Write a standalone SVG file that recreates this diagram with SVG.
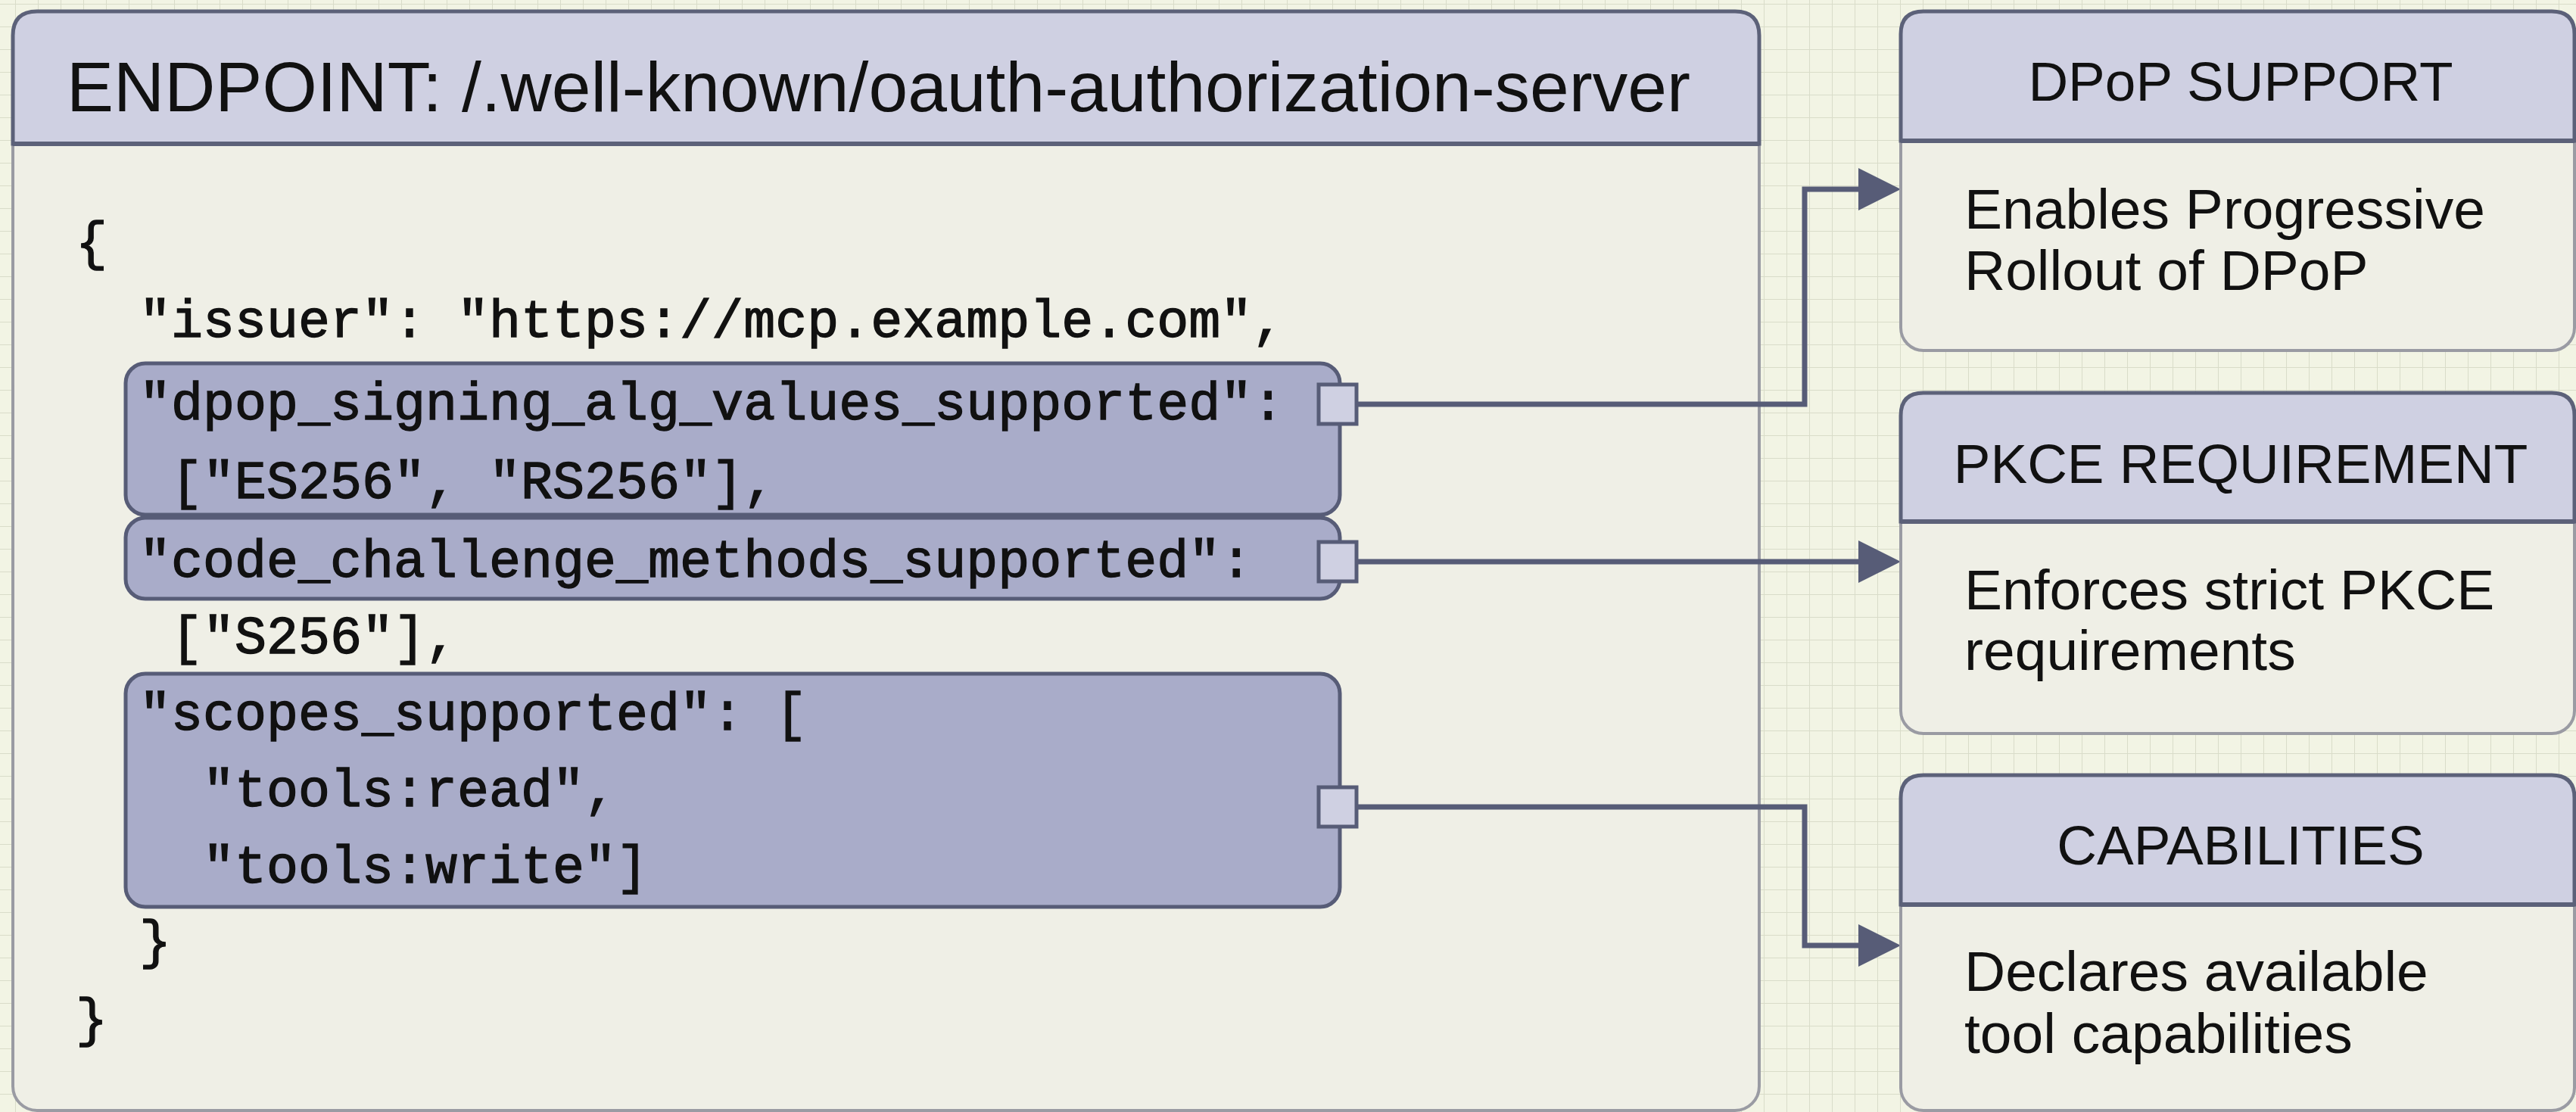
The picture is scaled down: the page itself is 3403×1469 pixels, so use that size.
<svg xmlns="http://www.w3.org/2000/svg" width="3403" height="1469" viewBox="0 0 3403 1469">
  <style>
    .bodyfill { fill: #efefe6; }
    .frame { fill: none; stroke: #9a9ba3; stroke-width: 4; }
    .head { fill: #cfd0e2; stroke: #5c6179; stroke-width: 5; }
    .sep { stroke: #5c6179; stroke-width: 6; }
    .hl { fill: #a9acc9; stroke: #575c77; stroke-width: 5; }
    .port { fill: #cfd0e2; stroke: #575c77; stroke-width: 5; }
    .wire { fill: none; stroke: #575c77; stroke-width: 7; }
    .title { font-family: "Liberation Sans", Arial, sans-serif; font-size: 93px; fill: #111; }
    .htxt { font-family: "Liberation Sans", Arial, sans-serif; font-size: 73px; fill: #111; text-anchor: middle; }
    .btxt { font-family: "Liberation Sans", Arial, sans-serif; font-size: 75px; fill: #111; }
    .code { font-family: "Liberation Mono", "DejaVu Sans Mono", monospace; font-size: 70px; fill: #111; stroke: #111; stroke-width: 1.4; white-space: pre; }
  </style>
  <defs>
    <pattern id="grid" width="30" height="30" x="20" y="5" patternUnits="userSpaceOnUse">
      <rect width="30" height="30" fill="#f2f4e4"/>
      <path d="M0 0H30M0 0V30" stroke="#d9dcc9" stroke-width="2" fill="none"/>
    </pattern>
    <marker id="arrow" markerUnits="userSpaceOnUse" viewBox="0 0 56 56" markerWidth="56" markerHeight="56" refX="0" refY="28" orient="auto">
      <path d="M0 0L56 28L0 56Z" fill="#575c77"/>
    </marker>
  </defs>

  <!-- graph paper background -->
  <rect width="3403" height="1469" fill="url(#grid)"/>

  <!-- endpoint document panel -->
  <g id="endpoint">
    <rect class="bodyfill" x="17" y="15" width="2307" height="1452" rx="32"/>
    <rect class="frame" x="17" y="15" width="2307" height="1452" rx="32"/>
    <path class="head" d="M17 190V47Q17 15 49 15H2292Q2324 15 2324 47V190Z"/>
    <line class="sep" x1="17" y1="190" x2="2324" y2="190"/>
    <text class="title" x="88" y="147">ENDPOINT: /.well-known/oauth-authorization-server</text>

    <text class="code" x="100" y="342">{</text>
    <text class="code" x="184" y="445">"issuer": "https://mcp.example.com",</text>
  </g>

  <g id="dpop-field">
    <rect class="hl" x="166" y="480" width="1604" height="200" rx="26"/>
    <text class="code" x="184" y="554">"dpop_signing_alg_values_supported":</text>
    <text class="code" x="226" y="658">["ES256", "RS256"],</text>
    <rect class="port" x="1742" y="508" width="50" height="52"/>
  </g>

  <g id="pkce-field">
    <rect class="hl" x="166" y="684" width="1604" height="107" rx="26"/>
    <text class="code" x="184" y="762">"code_challenge_methods_supported":</text>
    <rect class="port" x="1742" y="716" width="50" height="52"/>
  </g>

  <g id="s256-value">
    <text class="code" x="226" y="863">["S256"],</text>
  </g>

  <g id="scopes-field">
    <rect class="hl" x="166" y="890" width="1604" height="308" rx="26"/>
    <text class="code" x="184" y="964">"scopes_supported": [</text>
    <text class="code" x="268" y="1065">"tools:read",</text>
    <text class="code" x="268" y="1166">"tools:write"]</text>
    <rect class="port" x="1742" y="1040" width="50" height="52"/>
  </g>

  <g id="closing-braces">
    <text class="code" x="184" y="1265">}</text>
    <text class="code" x="100" y="1368">}</text>
  </g>

  <!-- connectors -->
  <g id="connectors">
    <path class="wire" d="M1792 534H2384V250H2455" marker-end="url(#arrow)"/>
    <path class="wire" d="M1792 742H2455" marker-end="url(#arrow)"/>
    <path class="wire" d="M1792 1066H2384V1249H2455" marker-end="url(#arrow)"/>
  </g>

  <!-- feature cards -->
  <g id="dpop-support">
    <rect class="bodyfill" x="2511" y="15" width="890" height="448" rx="30"/>
    <rect class="frame" x="2511" y="15" width="890" height="448" rx="30"/>
    <path class="head" d="M2511 186V45Q2511 15 2541 15H3371Q3401 15 3401 45V186Z"/>
    <line class="sep" x1="2511" y1="186" x2="3401" y2="186"/>
    <text class="htxt" x="2960" y="133">DPoP SUPPORT</text>
    <text class="btxt" x="2595" y="302">Enables Progressive</text>
    <text class="btxt" x="2595" y="383">Rollout of DPoP</text>
  </g>

  <g id="pkce-requirement">
    <rect class="bodyfill" x="2511" y="519" width="890" height="450" rx="30"/>
    <rect class="frame" x="2511" y="519" width="890" height="450" rx="30"/>
    <path class="head" d="M2511 689V549Q2511 519 2541 519H3371Q3401 519 3401 549V689Z"/>
    <line class="sep" x1="2511" y1="689" x2="3401" y2="689"/>
    <text class="htxt" x="2960" y="638">PKCE REQUIREMENT</text>
    <text class="btxt" x="2595" y="805">Enforces strict PKCE</text>
    <text class="btxt" x="2595" y="885">requirements</text>
  </g>

  <g id="capabilities">
    <rect class="bodyfill" x="2511" y="1024" width="890" height="443" rx="30"/>
    <rect class="frame" x="2511" y="1024" width="890" height="443" rx="30"/>
    <path class="head" d="M2511 1195V1054Q2511 1024 2541 1024H3371Q3401 1024 3401 1054V1195Z"/>
    <line class="sep" x1="2511" y1="1195" x2="3401" y2="1195"/>
    <text class="htxt" x="2960" y="1142">CAPABILITIES</text>
    <text class="btxt" x="2595" y="1309">Declares available</text>
    <text class="btxt" x="2595" y="1391">tool capabilities</text>
  </g>
</svg>
